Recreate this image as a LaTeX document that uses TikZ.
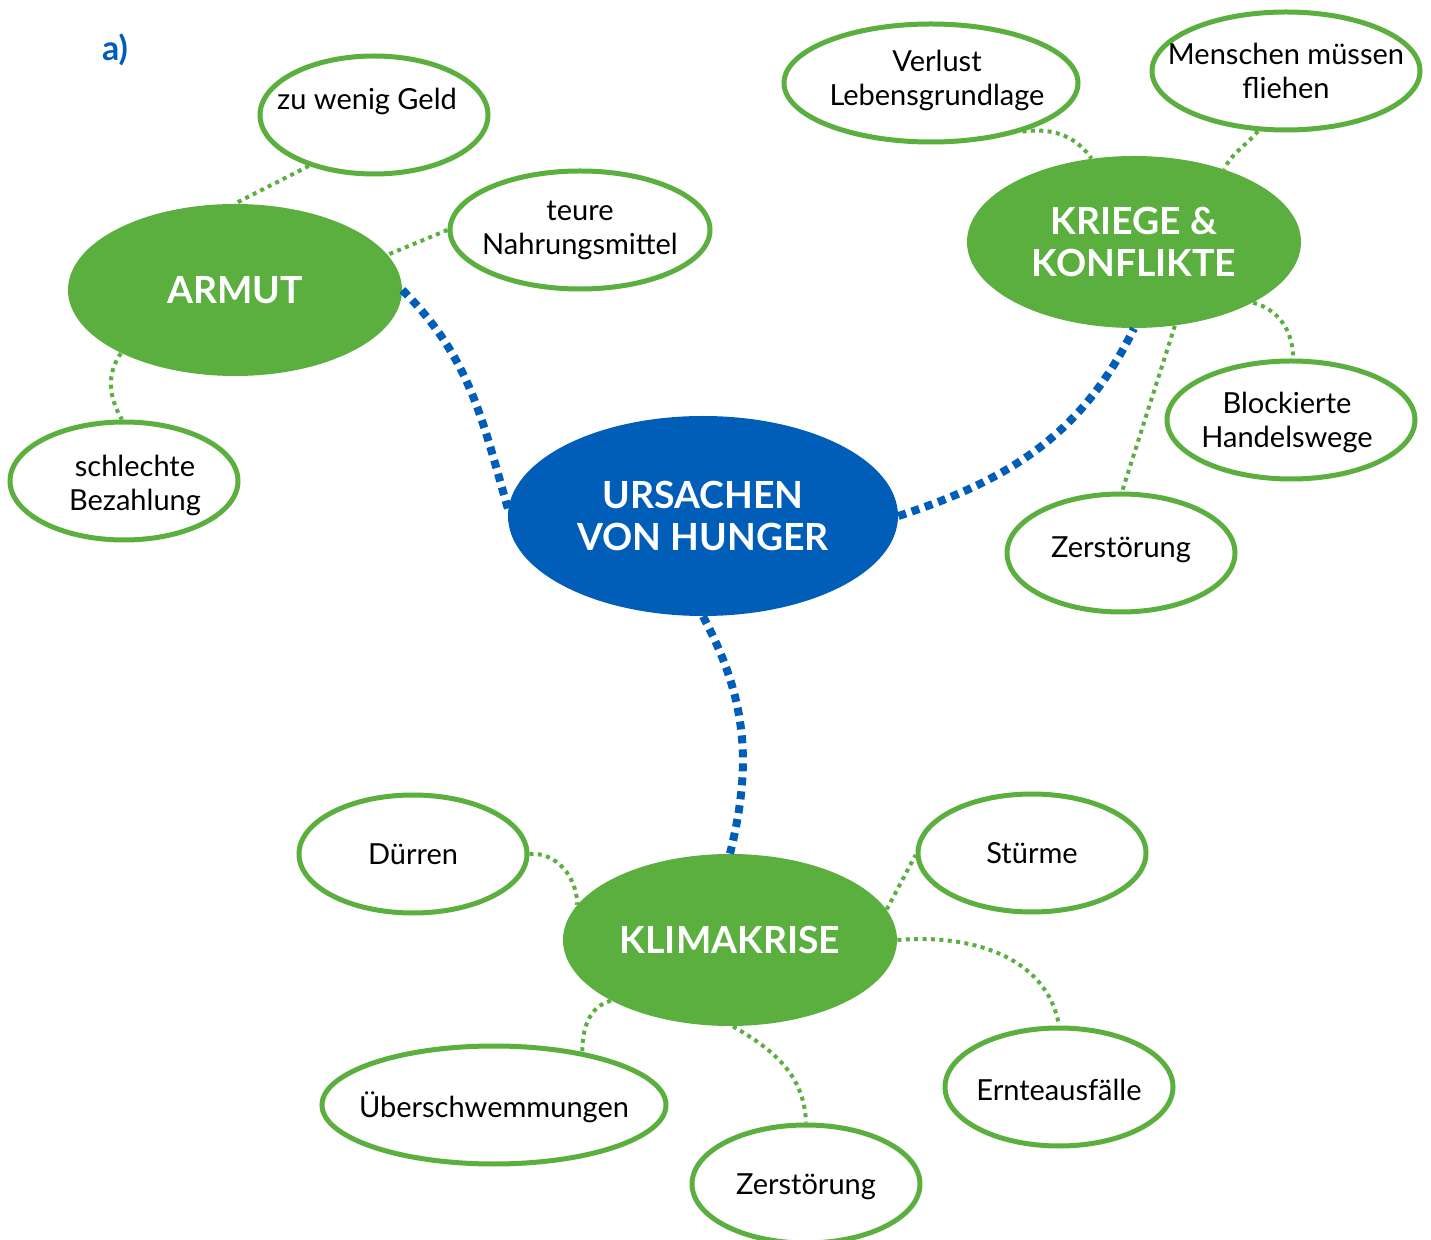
\documentclass[tikz,border=0pt]{standalone}
\usepackage{fontspec}
\setmainfont{Lato}
\usetikzlibrary{shapes.geometric}
\definecolor{grn}{RGB}{91,175,63}
\definecolor{blu}{RGB}{0,94,184}
\begin{document}
\begin{tikzpicture}[x=0.5pt,y=-0.5pt,
  main/.style={ellipse, fill=grn, inner sep=0pt, minimum width=167pt, minimum height=86pt,
    text=white, align=center, font=\fontsize{18.7}{21}\selectfont\bfseries},
  bubble/.style={ellipse, draw=grn, line width=2.5pt, fill=white, inner sep=0pt,
    minimum width=#1, minimum height=59pt},
  txt/.style={align=center, font=\fontsize{14.5}{17}\selectfont, text=black},
  bigline/.style={draw=blu, line width=4pt, dash pattern=on 4pt off 3pt},
  smallline/.style={draw=grn, line width=2pt, dash pattern=on 2pt off 2.2pt}]
\useasboundingbox (0,0) rectangle (1431,1240);

% central topic
\node[main, fill=blu, minimum width=195pt, minimum height=100pt] (hunger) at (703,516) {URSACHEN\\VON HUNGER};

% main branches
\node[main] (armut) at (235,290) {\raisebox{-2pt}{ARMUT}};
\node[main] (krieg) at (1134,242) {KRIEGE \&\\KONFLIKTE};
\node[main] (klima) at (730,940) {KLIMAKRISE};

% leaves of ARMUT
\node[bubble=114pt, label={[txt,xshift=-3.5pt,yshift=7pt]center:zu wenig Geld}] (geld) at (374,115) {};
\node[bubble=130pt, label={[txt]center:teure\\Nahrungsmittel}] (teuer) at (580,230) {};
\node[bubble=114pt, label={[txt,xshift=5.5pt,yshift=-2pt]center:schlechte\\Bezahlung}] (lohn) at (124,481) {};

% leaves of KRIEGE & KONFLIKTE
\node[bubble=147pt, label={[txt,xshift=3pt,yshift=1.5pt]center:Verlust\\Lebensgrundlage}] (verlust) at (931,83) {};
\node[bubble=134pt, label={[txt]center:Menschen müssen\\fliehen}] (flucht) at (1286,71) {};
\node[bubble=124pt, label={[txt,xshift=-2pt,yshift=-1pt]center:Blockierte\\Handelswege}] (handel) at (1291,420) {};
\node[bubble=114pt, label={[txt,yshift=1.5pt]center:Zerstörung}] (zerst1) at (1121,553) {};

% leaves of KLIMAKRISE
\node[bubble=114pt, label={[txt]center:Dürren}] (duerre) at (413,854) {};
\node[bubble=114pt, label={[txt]center:Stürme}] (sturm) at (1032,853) {};
\node[bubble=172pt, label={[txt,yshift=-1pt]center:Überschwemmungen}] (flut) at (494,1105) {};
\node[bubble=114pt, label={[txt,yshift=-1.5pt]center:Zerstörung}] (zerst2) at (806,1184) {};
\node[bubble=114pt, label={[txt,yshift=-1.5pt]center:Ernteausfälle}] (ernte) at (1059,1087) {};

% task label
\node[text=blu, font=\fontsize{17}{20}\selectfont\bfseries] (tag) at (115,50) {a)};

% main connectors
\draw[bigline] (armut.0) to[out=-45,in=106] (hunger.178);
\draw[bigline] (hunger.0) to[out=18,in=-116] (krieg.-90);
\draw[bigline] (hunger.-90) to[out=-62,in=76] (klima.90);

% leaf connectors
\draw[smallline] (geld.218) -- (armut.90);
\draw[smallline] (teuer.180) -- (armut.13);
\draw[smallline] (armut.209) to[out=235,in=120] (lohn.92);

\draw[smallline] (verlust.332) to[out=8,in=125] (krieg.117);
\draw[smallline] (flucht.245) to[out=230,in=62] (krieg.39);
\draw[smallline] (krieg.-27) to[out=-15,in=90] (handel.88);
\draw[smallline] (krieg.-64) -- (zerst1.89);

\draw[smallline] (duerre.0) to[out=5,in=90] (klima.167);
\draw[smallline] (klima.11) -- (sturm.181);
\draw[smallline] (klima.0) to[out=5,in=100] (ernte.90);
\draw[smallline] (klima.207) to[out=195,in=90] (flut.31);
\draw[smallline] (klima.-88) to[out=-30,in=92] (zerst2.90);
\end{tikzpicture}
\end{document}
